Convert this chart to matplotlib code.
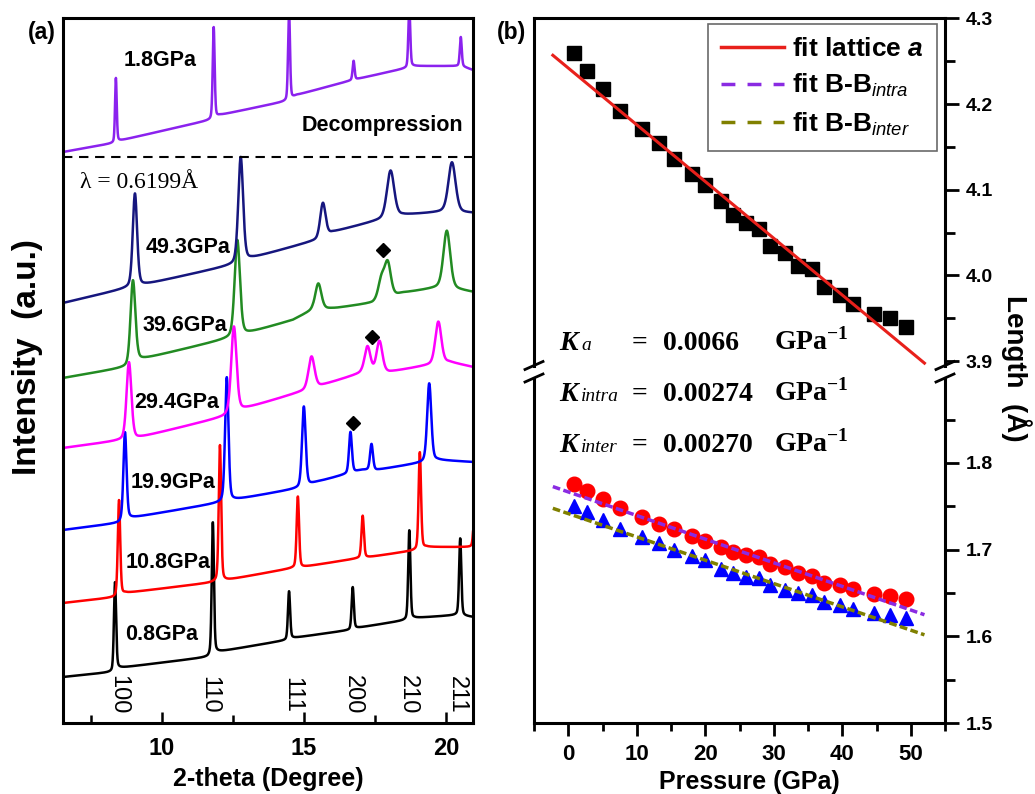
import numpy as np
import matplotlib
matplotlib.use('Agg')
import matplotlib.pyplot as plt
from matplotlib.lines import Line2D
from matplotlib.ticker import MultipleLocator, FixedLocator

plt.rcParams['font.family'] = ['Liberation Sans', 'DejaVu Sans']
plt.rcParams['mathtext.fontset'] = 'custom'
plt.rcParams['mathtext.rm'] = 'Liberation Serif:bold'
plt.rcParams['mathtext.it'] = 'Liberation Sans:italic'
plt.rcParams['mathtext.bf'] = 'Liberation Sans:italic:bold'

# ---------------- (a) XRD patterns: baseline knots + peaks ----------------
tt_range = [6.52, 20.94]

trace_labels = ['0.8GPa', '10.8GPa', '19.9GPa', '29.4GPa', '39.6GPa', '49.3GPa', '1.8GPa']
trace_colors = ['#000000', '#ff0000', '#0000ff', '#ff00ff', '#228b22', '#16167e', '#8b22ee']

base_x_08 = [6.52, 8.25, 8.46, 11.61, 11.93, 14.39, 14.6, 16.6, 16.84, 18.6, 18.88, 20.39, 20.94]
base_y_08 = [46, 51, 55, 66, 71, 83, 85, 93, 95, 103, 105, 108, 106]
peak_x_08 = [8.35, 11.79, 14.47, 16.71, 18.70, 20.49]
peak_h_08 = [88, 132, 48, 42, 89, 77]
peak_w_08 = [0.09, 0.09, 0.09, 0.09, 0.09, 0.09]

base_x_108 = [6.52, 8.42, 8.70, 11.61, 12.28, 14.6, 14.95, 16.95, 17.30, 18.98, 19.30, 20.94]
base_y_108 = [120, 126, 130, 140, 143, 155, 156, 165, 166, 173, 176, 176]
peak_x_108 = [8.49, 12.04, 14.78, 17.06, 19.07, 21.0]
peak_h_108 = [96, 136, 71, 42, 97, 40]
peak_w_108 = [0.1, 0.1, 0.1, 0.1, 0.1, 0.1]

base_x_199 = [6.52, 8.46, 8.88, 11.96, 12.49, 14.84, 15.44, 17.02, 17.54, 19.05, 19.68, 20.94]
base_y_199 = [193, 200, 205, 220, 223, 235, 241, 253, 253, 260, 263, 261]
peak_x_199 = [8.70, 12.28, 14.99, 16.63, 17.37, 19.40]
peak_h_199 = [88, 124, 80, 41, 26, 78]
peak_w_199 = [0.13, 0.14, 0.15, 0.12, 0.12, 0.17]

base_x_294 = [6.52, 8.63, 9.12, 12.14, 12.74, 15.09, 15.65, 17.02, 18.0, 19.40, 20.1, 20.94]
base_y_294 = [275, 283, 285, 306, 313, 333, 338, 350, 351, 358, 361, 356]
peak_x_294 = [8.84, 12.53, 15.26, 17.23, 17.65, 19.72]
peak_h_294 = [77, 86, 32, 26, 31, 42]
peak_w_294 = [0.2, 0.22, 0.25, 0.24, 0.24, 0.25]

base_x_396 = [6.52, 8.77, 9.16, 12.39, 13.02, 14.6, 15.3, 16.14, 17.4, 18.46, 19.86, 20.94]
base_y_396 = [345, 356, 363, 385, 390, 403, 413, 415, 420, 430, 436, 431]
peak_x_396 = [8.98, 12.65, 15.5, 17.72, 17.94, 20.02]
peak_h_396 = [83, 96, 26, 20, 34, 57]
peak_w_396 = [0.2, 0.22, 0.25, 0.26, 0.26, 0.28]

base_x_493 = [6.52, 8.77, 9.30, 12.46, 13.16, 15.44, 16.0, 17.65, 18.46, 19.86, 20.94]
base_y_493 = [420, 435, 438, 458, 465, 483, 491, 503, 508, 511, 510]
peak_x_493 = [9.05, 12.77, 15.66, 18.04, 20.2]
peak_h_493 = [93, 105, 34, 47, 50]
peak_w_493 = [0.18, 0.2, 0.22, 0.3, 0.3]

base_x_18 = [6.52, 8.3, 8.45, 11.68, 12.04, 14.39, 14.74, 16.7, 18.6, 18.81, 20.53, 20.94]
base_y_18 = [571, 580, 582, 603, 608, 622, 628, 643, 655, 657, 657, 653]
peak_x_18 = [8.38, 11.82, 14.47, 16.74, 18.70, 20.51]
peak_h_18 = [64, 91, 90, 19, 60, 29]
peak_w_18 = [0.07, 0.08, 0.08, 0.08, 0.08, 0.08]

traces = [
    (base_x_08, base_y_08, peak_x_08, peak_h_08, peak_w_08),
    (base_x_108, base_y_108, peak_x_108, peak_h_108, peak_w_108),
    (base_x_199, base_y_199, peak_x_199, peak_h_199, peak_w_199),
    (base_x_294, base_y_294, peak_x_294, peak_h_294, peak_w_294),
    (base_x_396, base_y_396, peak_x_396, peak_h_396, peak_w_396),
    (base_x_493, base_y_493, peak_x_493, peak_h_493, peak_w_493),
    (base_x_18, base_y_18, peak_x_18, peak_h_18, peak_w_18),
]

hkl_labels = ['100', '110', '111', '200', '210', '211']
hkl_pos = [8.45, 11.68, 14.57, 16.71, 18.65, 20.37]

diamond_x = [17.76, 17.39, 16.73]
diamond_y = [473, 386, 300]

separator_level = 566

# ---------------- (b) lattice / bond lengths ----------------
pressure = [0.8, 2.7, 5.1, 7.5, 10.8, 13.3, 15.5, 18.0, 19.9, 22.3, 24.0, 26.0,
            27.8, 29.4, 31.7, 33.6, 35.6, 37.4, 39.6, 41.6, 44.7, 47.0, 49.3]
lattice_a = [4.260, 4.239, 4.218, 4.192, 4.171, 4.154, 4.136, 4.118, 4.105, 4.087, 4.070, 4.061,
             4.054, 4.034, 4.026, 4.011, 4.007, 3.987, 3.977, 3.967, 3.955, 3.950, 3.940]
bb_intra = [1.776, 1.768, 1.758, 1.748, 1.738, 1.730, 1.724, 1.716, 1.710, 1.703, 1.697, 1.694,
            1.691, 1.683, 1.680, 1.673, 1.670, 1.662, 1.659, 1.655, 1.649, 1.647, 1.643]
bb_inter = [1.750, 1.743, 1.734, 1.724, 1.715, 1.708, 1.700, 1.693, 1.688, 1.678, 1.673, 1.669,
            1.667, 1.659, 1.654, 1.650, 1.648, 1.640, 1.636, 1.632, 1.627, 1.625, 1.621]
fit_a = [4.242, -0.00662]
fit_intra = [1.7666, -0.002725]
fit_inter = [1.7416, -0.00269]
fit_range = [-2.25, 52.0]

k_names = ['K', 'K', 'K']
k_subs = ['a', 'intra', 'inter']
k_values = ['0.0066', '0.00274', '0.00270']

# ---------------- figure ----------------
W, H = 1035, 794
fig = plt.figure(figsize=(W / 100, H / 100), dpi=100)


def fx(px):
    return px / W


def fy(py):
    return 1 - py / H


def profile(x, c, w, eta=0.3):
    g = np.exp(-4 * np.log(2) * ((x - c) / w) ** 2)
    lo = 1.0 / (1 + 4 * ((x - c) / w) ** 2)
    return (1 - eta) * g + eta * lo


axL = fig.add_axes([fx(63), fy(723), fx(410), (723 - 18) / H])
x = np.linspace(tt_range[0], tt_range[1], 4000)
for (bx, by, px_, ph, pw), col in zip(traces, trace_colors):
    y = np.interp(x, bx, by)
    for c, h, w in zip(px_, ph, pw):
        y = y + h * profile(x, c, w)
    axL.plot(x, y, color=col, lw=1.8, solid_joinstyle='round')
axL.axhline(separator_level, color='k', lw=1.5, ls=(0, (4.5, 3.2)))
axL.plot(diamond_x, diamond_y, ls='none', marker='D', color='k', ms=7)
axL.set_xlim(tt_range)
axL.set_ylim(0, 705)
axL.set_yticks([])
axL.xaxis.set_major_locator(MultipleLocator(5))
axL.xaxis.set_minor_locator(MultipleLocator(2.5))
axL.tick_params(axis='x', which='major', direction='in', length=8, width=1.8,
                labelsize=17, pad=10)
axL.tick_params(axis='x', which='minor', direction='in', length=6, width=1.8)
for lab in axL.get_xticklabels():
    lab.set_fontweight('bold')
for s in axL.spines.values():
    s.set_linewidth(2.2)
for lab, pos in zip(hkl_labels, hkl_pos):
    axL.text(pos, 28, lab, rotation=-90, ha='center', va='center', fontsize=17)

label_px = {'1.8GPa': (160, 60), '49.3GPa': (188, 247), '39.6GPa': (185, 325),
            '29.4GPa': (177, 402), '19.9GPa': (173, 483), '10.8GPa': (168, 562),
            '0.8GPa': (162, 635)}
for lab in trace_labels:
    px, py = label_px[lab]
    fig.text(fx(px), fy(py), lab, ha='center', va='center', fontsize=15.5, fontweight='bold')
fig.text(fx(463), fy(125), 'Decompression', ha='right', va='center', fontsize=15.5,
         fontweight='bold')
fig.text(fx(139), fy(182), 'λ = 0.6199Å', ha='center', va='center', fontsize=17,
         family='Liberation Serif')
fig.text(fx(42), fy(32), '(a)', ha='center', va='center', fontsize=16.5, fontweight='bold')
fig.text(fx(28), fy(357), 'Intensity  (a.u.)', ha='center', va='center', rotation=90,
         fontsize=24, fontweight='bold')
fig.text(fx(268), fy(779), '2-theta (Degree)', ha='center', va='center', fontsize=18,
         fontweight='bold')

# ---- (b) broken axis ----
axT = fig.add_axes([fx(534), fy(365.5), fx(411), (365.5 - 18.3) / H])
axB = fig.add_axes([fx(534), fy(723), fx(411), (723 - 378) / H])

xf = np.linspace(fit_range[0], fit_range[1], 50)
axT.plot(pressure, lattice_a, ls='none', marker='s', ms=10, color='k', zorder=2)
axT.plot(xf, fit_a[0] + fit_a[1] * xf, color='#e8201b', lw=2.2, zorder=3)
axB.plot(pressure, bb_intra, ls='none', marker='o', ms=10.5, color='#ff0000', zorder=2)
axB.plot(pressure, bb_inter, ls='none', marker='^', ms=10.5, color='#0000ff', zorder=2)
axB.plot(xf, fit_intra[0] + fit_intra[1] * xf, color='#8a2be2', lw=2.5,
         ls=(0, (2.2, 1.0)), zorder=3)
axB.plot(xf, fit_inter[0] + fit_inter[1] * xf, color='#808000', lw=2.5,
         ls=(0, (2.2, 1.0)), zorder=3)

for ax in (axT, axB):
    ax.set_xlim(-5, 55)
    ax.yaxis.tick_right()
    for s in ax.spines.values():
        s.set_linewidth(2.2)
axT.set_ylim(3.895, 4.3)
axB.set_ylim(1.5, 1.898)
axT.yaxis.set_major_locator(FixedLocator([3.9, 4.0, 4.1, 4.2, 4.3]))
axT.yaxis.set_minor_locator(FixedLocator([3.95, 4.05, 4.15, 4.25]))
axB.yaxis.set_major_locator(FixedLocator([1.5, 1.6, 1.7, 1.8]))
axB.yaxis.set_minor_locator(FixedLocator([1.55, 1.65, 1.75, 1.85]))
axT.spines['bottom'].set_visible(False)
axB.spines['top'].set_visible(False)
axT.tick_params(axis='x', which='both', bottom=False, top=False, labelbottom=False)
axB.xaxis.set_major_locator(MultipleLocator(10))
axB.xaxis.set_minor_locator(MultipleLocator(5))
axB.tick_params(axis='x', which='major', direction='out', length=9, width=2,
                labelsize=16, pad=6, top=False)
axB.tick_params(axis='x', which='minor', direction='out', length=6, width=2, top=False)
for ax in (axT, axB):
    ax.tick_params(axis='y', which='major', direction='out', length=10, width=2,
                   labelsize=14, pad=5, left=False, right=True)
    ax.tick_params(axis='y', which='minor', direction='out', length=7, width=2,
                   left=False, right=True)
    for lab in ax.get_xticklabels() + ax.get_yticklabels():
        lab.set_fontweight('bold')

# break marks
for xs in (534, 945):
    for ys in (365.5, 378):
        fig.add_artist(Line2D([fx(xs - 9), fx(xs + 9)], [fy(ys + 4), fy(ys - 4)],
                              transform=fig.transFigure, color='k', lw=2))

handles = [Line2D([], [], color='#e8201b', lw=2.5),
           Line2D([], [], color='#8a2be2', lw=2.5, ls=(0, (4, 3.5))),
           Line2D([], [], color='#808000', lw=2.5, ls=(0, (4, 3.5)))]
labels = ['fit lattice $\\mathbf{a}$', 'fit B-B$_{\\mathit{intra}}$', 'fit B-B$_{\\mathit{inter}}$']
leg = axT.legend(handles, labels, loc='upper right', bbox_to_anchor=(0.9805, 0.9836),
                 borderaxespad=0, frameon=True, fancybox=False, handlelength=2.4,
                 handletextpad=0.3, labelspacing=0.42, borderpad=0.5,
                 prop={'family': 'Liberation Sans', 'weight': 'bold', 'size': 19})
leg.get_frame().set_edgecolor('#444444')
leg.get_frame().set_linewidth(1.2)

k_base = [350, 401, 452]
for name, sub, val, yb in zip(k_names, k_subs, k_values, k_base):
    fig.text(fx(559), fy(yb), name, ha='left', va='baseline', fontsize=20,
             family='Liberation Serif', fontweight='bold', fontstyle='italic')
    fig.text(fx(581), fy(yb), sub, ha='left', va='baseline', fontsize=14,
             family='Liberation Serif', fontstyle='italic')
    fig.text(fx(632), fy(yb), '=', ha='left', va='baseline', fontsize=20,
             family='Liberation Serif', fontweight='bold')
    fig.text(fx(663), fy(yb), val, ha='left', va='baseline', fontsize=20,
             family='Liberation Serif', fontweight='bold')
    fig.text(fx(774), fy(yb), 'GPa$^{-1}$', ha='left', va='baseline', fontsize=20,
             family='Liberation Serif', fontweight='bold')

fig.text(fx(512), fy(33), '(b)', ha='center', va='center', fontsize=16.5, fontweight='bold')
fig.text(fx(1016), fy(368), 'Length  (Å)', ha='center', va='center', rotation=-90,
         fontsize=20, fontweight='bold')
fig.text(fx(749), fy(782), 'Pressure (GPa)', ha='center', va='center', fontsize=18,
         fontweight='bold')

fig.savefig('out.png', dpi=100)
